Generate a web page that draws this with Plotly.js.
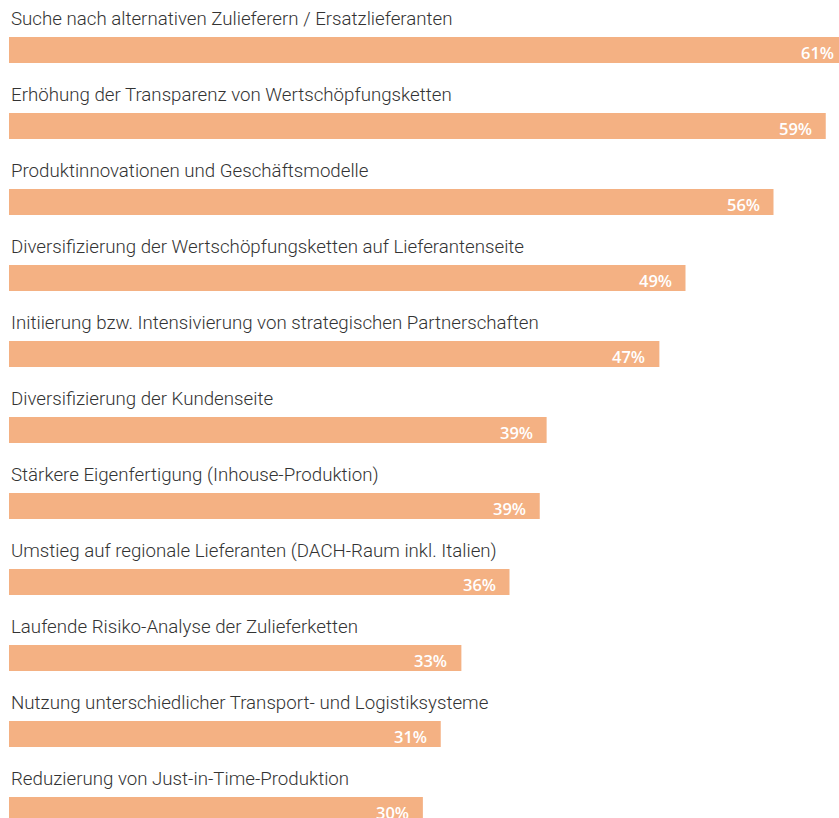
<!DOCTYPE html>
<html>
<head>
<meta charset="utf-8">
<script src="https://cdn.plot.ly/plotly-3.0.1.min.js"></script>
<style>
html,body{margin:0;padding:0;overflow:hidden;background:#fff;}
#chart{width:860px;height:818px;}
</style>
</head>
<body>
<div id="chart"></div>
<script>
const categories = [
  "Suche nach alternativen Zulieferern / Ersatzlieferanten",
  "Erhöhung der Transparenz von Wertschöpfungsketten",
  "Produktinnovationen und Geschäftsmodelle",
  "Diversifizierung der Wertschöpfungsketten auf Lieferantenseite",
  "Initiierung bzw. Intensivierung von strategischen Partnerschaften",
  "Diversifizierung der Kundenseite",
  "Stärkere Eigenfertigung (Inhouse-Produktion)",
  "Umstieg auf regionale Lieferanten (DACH-Raum inkl. Italien)",
  "Laufende Risiko-Analyse der Zulieferketten",
  "Nutzung unterschiedlicher Transport- und Logistiksysteme",
  "Reduzierung von Just-in-Time-Produktion"
];
const values = [61.0, 59.4, 55.6, 49.2, 47.3, 39.1, 38.6, 36.4, 32.9, 31.4, 30.1];
const valueLabels = ["61%", "59%", "56%", "49%", "47%", "39%", "39%", "36%", "33%", "31%", "30%"];

const pxPerPct = 13.75;
const plotW = 860 - 9;

const annotations = [];
categories.forEach((c, i) => {
  annotations.push({
    x: 0, y: c, xref: 'x', yref: 'y',
    text: c, showarrow: false,
    xanchor: 'left', yanchor: 'middle',
    xshift: 0, yshift: 31,
    font: {family: 'Roboto', size: 18.7, color: '#333333', weight: 300}
  });
  annotations.push({
    x: values[i], y: c, xref: 'x', yref: 'y',
    text: valueLabels[i], showarrow: false,
    xanchor: 'right', yanchor: 'middle',
    xshift: -12, yshift: -2.5,
    font: {family: 'Open Sans', size: 16.5, color: '#ffffff', weight: 600}
  });
});

const trace = {
  type: 'bar', orientation: 'h',
  x: values, y: categories,
  width: 0.342,
  marker: {color: '#F4B183', line: {width: 0}},
  hoverinfo: 'skip'
};

const layout = {
  width: 860, height: 818,
  margin: {l: 9, r: 0, t: 0, b: 0, pad: 0},
  paper_bgcolor: '#ffffff', plot_bgcolor: '#ffffff',
  showlegend: false,
  xaxis: {range: [0, plotW / pxPerPct], visible: false, fixedrange: true},
  yaxis: {type: 'category', range: [10 + 8/76, -50/76], visible: false, fixedrange: true},
  annotations: annotations
};

Plotly.newPlot('chart', [trace], layout, {displayModeBar: false, staticPlot: true});
</script>
</body>
</html>
